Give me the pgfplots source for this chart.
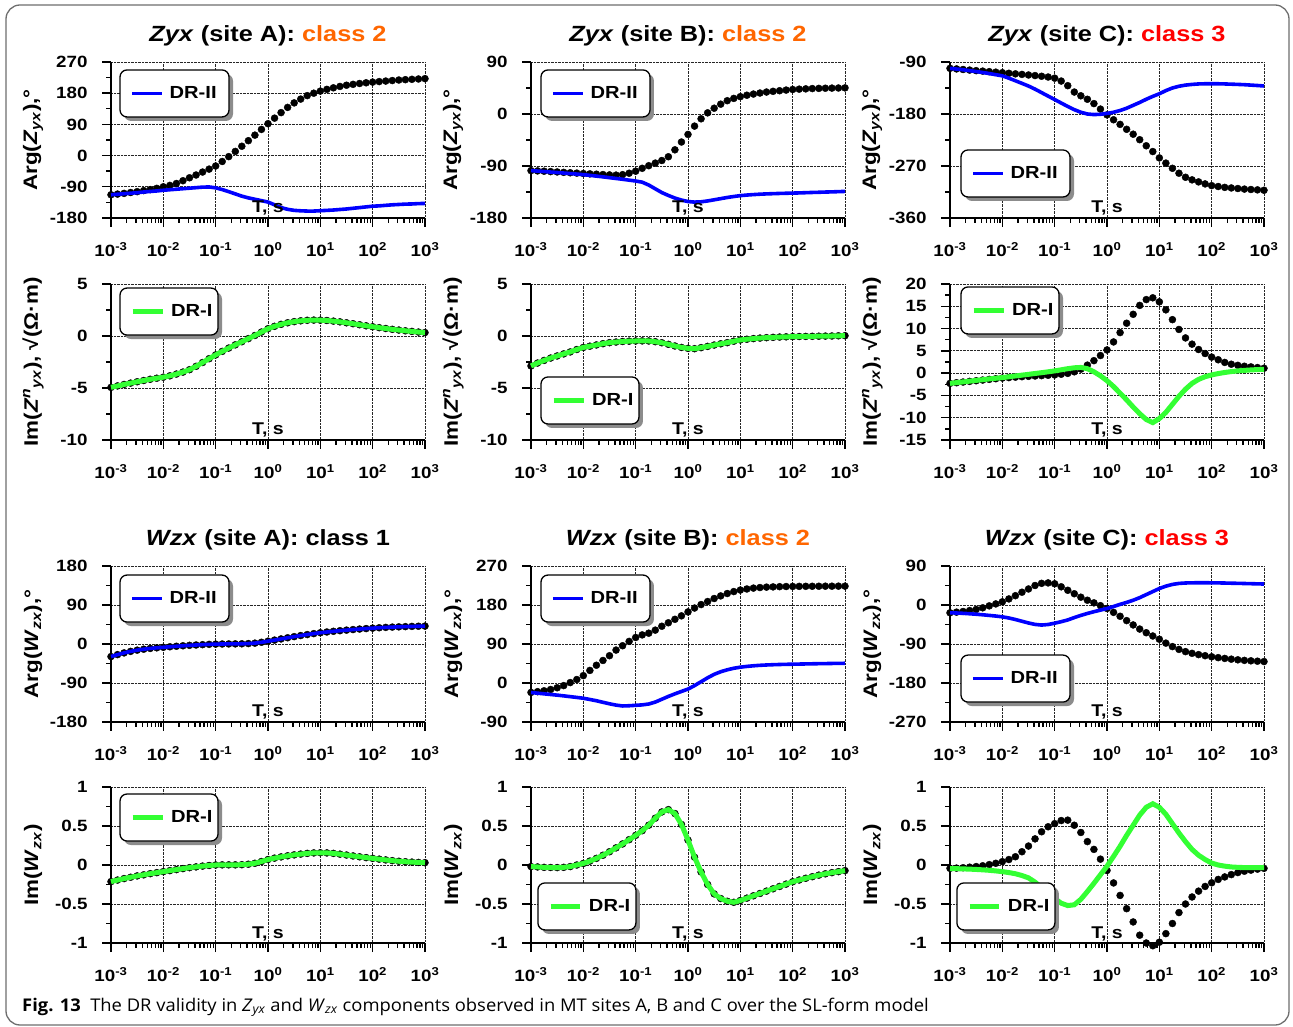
\documentclass[border=0pt]{standalone}
\usepackage{fontspec}
\setmainfont{Liberation Sans}[FakeStretch=1.15]
\newfontfamily\capfont{Open Sans}
\usepackage{graphicx}
\usepackage{xcolor}
\usepackage{pgfplots}
\usepackage{pgfplotstable}
\pgfplotsset{compat=1.18}
\definecolor{clstwo}{RGB}{255,102,0}
\definecolor{clsthree}{RGB}{255,0,0}
\definecolor{drblue}{RGB}{0,0,255}
\definecolor{drgreen}{RGB}{51,255,51}
\definecolor{framegray}{RGB}{110,110,110}

\pgfplotstableread{
x ad al bd bl cd cl
1e-3 -113 -113 -98 -98 -101 -101
1.3335e-3 -111 -111.5 -98.5 -98.8 -102 -102.2
1.7783e-3 -109 -110 -99 -99.6 -103 -103.5
2.3714e-3 -106.5 -108.5 -99.7 -100.5 -104 -105
3.1623e-3 -104 -107 -100.3 -101.3 -105 -106.5
4.2170e-3 -101 -105 -101 -102.2 -105.8 -108.2
5.6234e-3 -98 -103.5 -101.7 -103.1 -106.7 -110
7.4989e-3 -94.5 -102 -102.3 -104 -107.6 -112
1e-2 -90 -100 -103 -105 -108.5 -114
1.3335e-2 -86 -98.5 -103.6 -106.2 -109.5 -118
1.7783e-2 -80.5 -97 -104.2 -107.5 -110.5 -122.5
2.3714e-2 -72.5 -95.5 -104.8 -108.8 -111.5 -127
3.1623e-2 -64 -94 -105.4 -110.2 -112.5 -131.6
4.2170e-2 -56 -92.5 -105.8 -111.6 -113.5 -137
5.6234e-2 -47.5 -91 -105 -113 -114.7 -143
7.4989e-2 -39 -90.5 -102.5 -114.5 -116 -149
1e-1 -30 -93 -99 -116 -118 -155
1.3335e-1 -17 -98 -94 -118 -123 -161
1.7783e-1 -3 -104 -89.5 -123 -131 -167
2.3714e-1 12 -110.5 -85 -129.5 -142 -172.5
3.1623e-1 27 -117 -80.5 -136 -148.5 -177
4.2170e-1 43 -122 -74 -141 -154.5 -180
5.6234e-1 59 -126 -62 -145.5 -162 -181
7.4989e-1 75.5 -130 -48.5 -149 -171.5 -180.5
1 92 -134 -35.4 -151.5 -181.5 -179
1.3335 108 -142 -21 -152.5 -190 -177
1.7783 124 -150 -8.3 -152 -198 -174
2.3714 139 -155 2 -150.5 -206.5 -170
3.1623 152 -158 10 -148.5 -215 -165
4.2170 163 -159.3 17 -146.5 -224.5 -160
5.6234 173 -160 23 -144.5 -235 -154.5
7.4989 180 -160 27 -142.8 -245 -149.5
10 186 -159 30 -141.3 -256 -145
13.335 191 -158 32.5 -140.3 -265 -139.5
17.783 195.5 -157 34.5 -139.5 -274 -135
23.714 199.5 -155.5 36.3 -138.8 -282.5 -132
31.623 203 -154 38 -138.3 -289.5 -130
42.170 205.5 -152 39.2 -137.9 -294 -128.8
56.234 208 -150 40.3 -137.5 -297.5 -128
74.989 210 -148 41.4 -137.2 -301 -127.7
100 212 -146 42.4 -136.9 -304 -127.6
133.35 213.5 -145 43 -136.6 -305.5 -127.7
177.83 215 -143.5 43.5 -136.2 -307 -128
237.14 216.5 -142 44 -135.8 -308 -128.4
316.23 218 -141 44.3 -135.5 -309 -128.8
421.70 219 -140 44.6 -135.1 -310 -129.3
562.34 220 -139.5 44.8 -134.8 -310.7 -130
749.89 221 -138.5 45 -134.4 -311.3 -130.7
1000 222 -138 45.2 -134 -312 -131.5
}\tabA

\pgfplotstableread{
x d e fd fl
1e-3 -4.94 -2.88 -2.3 -2.3
1.3335e-3 -4.8 -2.6 -2.15 -2.13
1.7783e-3 -4.66 -2.35 -2.0 -1.97
2.3714e-3 -4.53 -2.12 -1.85 -1.8
3.1623e-3 -4.4 -1.92 -1.7 -1.63
4.2170e-3 -4.28 -1.72 -1.55 -1.47
5.6234e-3 -4.16 -1.53 -1.4 -1.3
7.4989e-3 -4.06 -1.3 -1.25 -1.15
1e-2 -3.96 -1.1 -1.1 -1.0
1.3335e-2 -3.83 -0.98 -1.0 -0.82
1.7783e-2 -3.66 -0.86 -0.9 -0.63
2.3714e-2 -3.47 -0.74 -0.8 -0.45
3.1623e-2 -3.24 -0.64 -0.72 -0.27
4.2170e-2 -2.92 -0.58 -0.64 -0.08
5.6234e-2 -2.55 -0.53 -0.56 0.1
7.4989e-2 -2.18 -0.5 -0.48 0.3
1e-1 -1.82 -0.48 -0.4 0.5
1.3335e-1 -1.48 -0.47 -0.25 0.75
1.7783e-1 -1.16 -0.48 -0.05 1.0
2.3714e-1 -0.85 -0.55 0.3 1.2
3.1623e-1 -0.55 -0.65 0.9 1.28
4.2170e-1 -0.25 -0.8 1.8 1.0
5.6234e-1 0.05 -0.96 2.8 0.3
7.4989e-1 0.38 -1.1 3.95 -0.6
1 0.7 -1.19 5.2 -1.7
1.3335 0.93 -1.22 7.0 -3.0
1.7783 1.12 -1.12 9.1 -4.5
2.3714 1.27 -1.0 11.2 -6.0
3.1623 1.38 -0.87 13.2 -7.6
4.2170 1.46 -0.75 15.2 -9.1
5.6234 1.51 -0.64 16.5 -10.4
7.4989 1.53 -0.5 16.9 -11.1
10 1.52 -0.38 16.0 -10.2
13.335 1.49 -0.31 14.2 -8.8
17.783 1.43 -0.25 12.0 -7.0
23.714 1.36 -0.2 9.8 -5.2
31.623 1.27 -0.16 7.9 -3.6
42.170 1.18 -0.13 6.5 -2.3
56.234 1.08 -0.1 5.3 -1.4
74.989 0.98 -0.08 4.4 -0.8
100 0.89 -0.06 3.6 -0.4
133.35 0.8 -0.05 3.0 -0.1
177.83 0.72 -0.04 2.4 0.15
237.14 0.64 -0.03 2.0 0.35
316.23 0.57 -0.02 1.75 0.5
421.70 0.5 -0.01 1.55 0.62
562.34 0.44 0 1.4 0.72
749.89 0.38 0.02 1.25 0.8
1000 0.33 0.03 1.1 0.85
}\tabB

\pgfplotstableread{
x g hd hl id il
1e-3 -29 -21.8 -22 -18 -18
1.3335e-3 -24.5 -20 -23.5 -16.5 -18.5
1.7783e-3 -20.5 -18 -25 -15 -19.2
2.3714e-3 -17 -15 -26.5 -12.8 -20.2
3.1623e-3 -14.2 -11 -28 -10.3 -21.3
4.2170e-3 -12 -6 -29.7 -6.5 -22.6
5.6234e-3 -10.2 1 -31.5 -2 -24
7.4989e-3 -8.8 8 -33.3 2.5 -25.5
1e-2 -7.6 17 -35.2 7.3 -27.3
1.3335e-2 -6.4 29 -38 14 -30
1.7783e-2 -5.2 41 -41 21.5 -33.5
2.3714e-2 -4.1 52 -44.5 29.5 -37.5
3.1623e-2 -3.1 63 -48 37 -41.5
4.2170e-2 -2.3 76 -51 45 -44.8
5.6234e-2 -1.5 86 -53 50 -46.3
7.4989e-2 -0.8 96 -52.5 51 -45
1e-1 -0.3 105 -51.5 49 -42
1.3335e-1 0 111 -50.5 42 -38.5
1.7783e-1 0.2 115 -48.5 34 -34.5
2.3714e-1 0.3 122 -44 26 -29
3.1623e-1 0.5 131 -37.5 18 -24
4.2170e-1 1 139 -31 11 -19.5
5.6234e-1 2 147 -25 5 -15.5
7.4989e-1 4 155 -19.5 -1.5 -11.8
1 6.5 164 -14 -8 -8
1.3335 9 173 -6 -17 -3.5
1.7783 11.7 181 3 -26 1.5
2.3714 14.4 188 12 -36 6
3.1623 17 195 20 -46 11
4.2170 19.5 201 26 -55.5 17
5.6234 21.8 206.5 30.5 -64 24
7.4989 24 211 34 -71.5 31
10 26 214.5 36.5 -79 38
13.335 27.7 217 38.3 -88 43.5
17.783 29.3 219 39.7 -96 47.5
23.714 30.7 220.3 40.8 -102.5 49.8
31.623 32 221.2 41.6 -107.6 50.8
42.170 33.3 221.8 42.2 -111.5 51.2
56.234 34.5 222.3 42.7 -114.5 51.3
74.989 35.6 222.6 43.1 -117 51.3
100 36.6 222.8 43.4 -119.5 51.2
133.35 37.5 223 43.7 -121.5 51
177.83 38.3 223.1 44 -123.3 50.7
237.14 39 223.2 44.3 -125 50.3
316.23 39.6 223.3 44.6 -126.5 50
421.70 40.1 223.4 44.8 -127.8 49.6
562.34 40.6 223.4 45.1 -128.8 49.2
749.89 41 223.5 45.3 -129.7 48.8
1000 41.4 223.5 45.5 -130.5 48.4
}\tabC

\pgfplotstableread{
x j k ld ll
1e-3 -0.213 -0.02 -0.043 -0.045
1.3335e-3 -0.193 -0.025 -0.04 -0.047
1.7783e-3 -0.174 -0.03 -0.035 -0.05
2.3714e-3 -0.157 -0.032 -0.028 -0.053
3.1623e-3 -0.14 -0.033 -0.02 -0.057
4.2170e-3 -0.126 -0.03 -0.01 -0.062
5.6234e-3 -0.111 -0.02 0.005 -0.068
7.4989e-3 -0.098 0 0.022 -0.076
1e-2 -0.085 0.02 0.043 -0.085
1.3335e-2 -0.072 0.05 0.07 -0.097
1.7783e-2 -0.059 0.085 0.106 -0.112
2.3714e-2 -0.046 0.125 0.17 -0.135
3.1623e-2 -0.034 0.17 0.243 -0.165
4.2170e-2 -0.024 0.22 0.335 -0.22
5.6234e-2 -0.014 0.27 0.426 -0.29
7.4989e-2 -0.006 0.325 0.49 -0.36
1e-1 0 0.38 0.53 -0.43
1.3335e-1 0.002 0.44 0.57 -0.49
1.7783e-1 0.002 0.51 0.575 -0.52
2.3714e-1 0.002 0.6 0.51 -0.51
3.1623e-1 0.004 0.68 0.417 -0.44
4.2170e-1 0.01 0.71 0.3 -0.34
5.6234e-1 0.022 0.66 0.2 -0.235
7.4989e-1 0.045 0.52 0.075 -0.125
1 0.07 0.32 -0.07 -0.015
1.3335 0.088 0.1 -0.23 0.11
1.7783 0.104 -0.09 -0.39 0.24
2.3714 0.118 -0.25 -0.56 0.38
3.1623 0.13 -0.37 -0.73 0.51
4.2170 0.14 -0.43 -0.9 0.64
5.6234 0.149 -0.465 -1.0 0.74
7.4989 0.155 -0.478 -1.035 0.785
10 0.157 -0.455 -0.99 0.74
13.335 0.155 -0.425 -0.88 0.65
17.783 0.149 -0.395 -0.75 0.53
23.714 0.139 -0.365 -0.61 0.41
31.623 0.128 -0.335 -0.5 0.3
42.170 0.116 -0.305 -0.41 0.2
56.234 0.105 -0.275 -0.335 0.125
74.989 0.095 -0.245 -0.275 0.07
100 0.085 -0.215 -0.228 0.025
133.35 0.075 -0.192 -0.185 0
177.83 0.065 -0.17 -0.153 -0.015
237.14 0.056 -0.15 -0.123 -0.025
316.23 0.048 -0.13 -0.097 -0.03
421.70 0.042 -0.113 -0.08 -0.033
562.34 0.037 -0.098 -0.066 -0.034
749.89 0.033 -0.085 -0.053 -0.035
1000 0.03 -0.072 -0.043 -0.035
}\tabD

% legend frame with shadow: #1,#2 = top-left corner (axis description cs), #3 = width
\newcommand{\legbox}[3]{%
  \fill[black!45, rounded corners=7pt] ([xshift=4pt,yshift=-4pt]axis description cs:#1,#2) rectangle ([xshift=#3+4pt,yshift=-51pt]axis description cs:#1,#2);
  \filldraw[fill=white, draw=black, line width=1.3pt, rounded corners=7pt] (axis description cs:#1,#2) rectangle ([xshift=#3,yshift=-47pt]axis description cs:#1,#2);
}

\pgfplotsset{
  every axis/.append style={
    scale only axis, width=314pt, height=156pt,
    xmin=1e-3, xmax=1e3,
    clip=false, clip marker paths=true,
    axis lines=left, axis line style={-, line width=2.2pt},
    tick align=outside,
    major tick length=9pt, minor tick length=5pt,
    xtick={1e-3,1e-2,1e-1,1,10,100,1000},
    xticklabels={10\textsuperscript{-3},10\textsuperscript{-2},10\textsuperscript{-1},10\textsuperscript{0},10\textsuperscript{1},10\textsuperscript{2},10\textsuperscript{3}},
    minor y tick num=1,
    grid=major,
    major grid style={black!85, densely dotted, line width=0.8pt},
    tick style={black, line width=1.4pt},
    tick label style={font=\fontsize{16.3}{16.3}\selectfont\bfseries},
    yticklabel style={xshift=-11pt},
    xticklabel style={yshift=-12pt},
    title style={font=\fontsize{22}{22}\selectfont\bfseries, at={(0.5,1)}, anchor=base, yshift=14.5pt},
    xlabel={T, s},
    xlabel style={font=\fontsize{17}{17}\selectfont\bfseries, at={(axis description cs:0.5,0)}, anchor=base, yshift=5pt, inner sep=0pt},
    ylabel style={font=\fontsize{19.5}{19.5}\selectfont\bfseries, at={(axis description cs:-0.248,0.5)}, anchor=center},
    legend style={draw=none, fill=none, inner sep=0pt, anchor=west, xshift=10pt,
        font=\fontsize{17.5}{17.5}\selectfont\bfseries,
        /tikz/every odd column/.append style={column sep=4pt}},
    legend image post style={xscale=1.75},
  },
}

\begin{document}
\begin{tikzpicture}
\useasboundingbox (0pt,0pt) rectangle (1293pt,1026pt);
\fill[white] (0pt,0pt) rectangle (1293pt,1026pt);
\draw[framegray, line width=1.3pt, rounded corners=14pt] (6pt,1pt) rectangle (1289pt,1021pt);

% ---------- Row 1: Arg Zyx ----------
\begin{semilogxaxis}[at={(111pt,808pt)}, anchor=south west,
  ymin=-180, ymax=270, ytick={-180,-90,0,90,180,270}, yticklabels={-180,-90,0,90,180,270},
  title={\textit{Zyx} (site A): \textcolor{clstwo}{class 2}},
  ylabel={Arg(\textit{Z}\textsubscript{\textit{yx}}),°},
  legend style={at={(0.0287,0.798)}}]
\addplot[only marks, mark=*, mark size=3.5pt, black, forget plot] table[x=x, y=ad] {\tabA};
\addplot[drblue, line width=3.6pt, no marks] table[x=x, y=al] {\tabA};
\addlegendentry{DR-II}
\legbox{0.0287}{0.949}{109pt}
\end{semilogxaxis}

\begin{semilogxaxis}[at={(531pt,808pt)}, anchor=south west,
  ymin=-180, ymax=90, ytick={-180,-90,0,90}, yticklabels={-180,-90,0,90},
  title={\textit{Zyx} (site B): \textcolor{clstwo}{class 2}},
  ylabel={Arg(\textit{Z}\textsubscript{\textit{yx}}),°},
  legend style={at={(0.0318,0.798)}}]
\addplot[only marks, mark=*, mark size=3.5pt, black, forget plot] table[x=x, y=bd] {\tabA};
\addplot[drblue, line width=3.6pt, no marks] table[x=x, y=bl] {\tabA};
\addlegendentry{DR-II}
\legbox{0.0318}{0.949}{109pt}
\end{semilogxaxis}

\begin{semilogxaxis}[at={(950pt,808pt)}, anchor=south west,
  ymin=-360, ymax=-90, ytick={-360,-270,-180,-90}, yticklabels={-360,-270,-180,-90},
  title={\textit{Zyx} (site C): \textcolor{clsthree}{class 3}},
  ylabel={Arg(\textit{Z}\textsubscript{\textit{yx}}),°},
  legend style={at={(0.035,0.285)}}]
\addplot[only marks, mark=*, mark size=3.5pt, black, forget plot] table[x=x, y=cd] {\tabA};
\addplot[drblue, line width=3.6pt, no marks] table[x=x, y=cl] {\tabA};
\addlegendentry{DR-II}
\legbox{0.035}{0.436}{109pt}
\end{semilogxaxis}

% ---------- Row 2: Im Zyx ----------
\begin{semilogxaxis}[at={(111pt,586pt)}, anchor=south west,
  ymin=-10, ymax=5, ytick={-10,-5,0,5}, yticklabels={-10,-5,0,5},
  ylabel={Im(\textit{Z}\textsuperscript{\textit{n}}\textsubscript{\textit{yx}}), √(Ω·m)},
  legend style={at={(0.0287,0.823)}}]
\addplot[only marks, mark=*, mark size=3.5pt, black, forget plot] table[x=x, y=d] {\tabB};
\addplot[drgreen, line width=5pt, no marks] table[x=x, y=d] {\tabB};
\addlegendentry{DR-I}
\legbox{0.0287}{0.974}{98pt}
\end{semilogxaxis}

\begin{semilogxaxis}[at={(531pt,586pt)}, anchor=south west,
  ymin=-10, ymax=5, ytick={-10,-5,0,5}, yticklabels={-10,-5,0,5},
  ylabel={Im(\textit{Z}\textsuperscript{\textit{n}}\textsubscript{\textit{yx}}), √(Ω·m)},
  legend style={at={(0.0318,0.253)}}]
\addplot[only marks, mark=*, mark size=3.5pt, black, forget plot] table[x=x, y=e] {\tabB};
\addplot[drgreen, line width=5pt, no marks] table[x=x, y=e] {\tabB};
\addlegendentry{DR-I}
\legbox{0.0318}{0.404}{98pt}
\end{semilogxaxis}

\begin{semilogxaxis}[at={(950pt,586pt)}, anchor=south west,
  ymin=-15, ymax=20, ytick={-15,-10,-5,0,5,10,15,20}, yticklabels={-15,-10,-5,0,5,10,15,20},
  ylabel={Im(\textit{Z}\textsuperscript{\textit{n}}\textsubscript{\textit{yx}}), √(Ω·m)},
  legend style={at={(0.035,0.830)}}]
\addplot[only marks, mark=*, mark size=3.5pt, black, forget plot] table[x=x, y=fd] {\tabB};
\addplot[drgreen, line width=5pt, no marks] table[x=x, y=fl] {\tabB};
\addlegendentry{DR-I}
\legbox{0.035}{0.981}{98pt}
\end{semilogxaxis}

% ---------- Row 3: Arg Wzx ----------
\begin{semilogxaxis}[at={(111pt,304pt)}, anchor=south west,
  ymin=-180, ymax=180, ytick={-180,-90,0,90,180}, yticklabels={-180,-90,0,90,180},
  title={\textit{Wzx} (site A): class 1},
  ylabel={Arg(\textit{W}\textsubscript{\textit{zx}}),°},
  legend style={at={(0.0287,0.791)}}]
\addplot[only marks, mark=*, mark size=3.5pt, black, forget plot] table[x=x, y=g] {\tabC};
\addplot[drblue, line width=3.6pt, no marks] table[x=x, y=g] {\tabC};
\addlegendentry{DR-II}
\legbox{0.0287}{0.942}{109pt}
\end{semilogxaxis}

\begin{semilogxaxis}[at={(531pt,304pt)}, anchor=south west,
  ymin=-90, ymax=270, ytick={-90,0,90,180,270}, yticklabels={-90,0,90,180,270},
  title={\textit{Wzx} (site B): \textcolor{clstwo}{class 2}},
  ylabel={Arg(\textit{W}\textsubscript{\textit{zx}}),°},
  legend style={at={(0.0318,0.791)}}]
\addplot[only marks, mark=*, mark size=3.5pt, black, forget plot] table[x=x, y=hd] {\tabC};
\addplot[drblue, line width=3.6pt, no marks] table[x=x, y=hl] {\tabC};
\addlegendentry{DR-II}
\legbox{0.0318}{0.942}{109pt}
\end{semilogxaxis}

\begin{semilogxaxis}[at={(950pt,304pt)}, anchor=south west,
  ymin=-270, ymax=90, ytick={-270,-180,-90,0,90}, yticklabels={-270,-180,-90,0,90},
  title={\textit{Wzx} (site C): \textcolor{clsthree}{class 3}},
  ylabel={Arg(\textit{W}\textsubscript{\textit{zx}}),°},
  legend style={at={(0.035,0.278)}}]
\addplot[only marks, mark=*, mark size=3.5pt, black, forget plot] table[x=x, y=id] {\tabC};
\addplot[drblue, line width=3.6pt, no marks] table[x=x, y=il] {\tabC};
\addlegendentry{DR-II}
\legbox{0.035}{0.429}{109pt}
\end{semilogxaxis}

% ---------- Row 4: Im Wzx ----------
\begin{semilogxaxis}[at={(111pt,83pt)}, anchor=south west,
  ymin=-1, ymax=1, ytick={-1,-0.5,0,0.5,1}, yticklabels={-1,-0.5,0,0.5,1},
  ylabel={Im(\textit{W}\textsubscript{\textit{zx}})},
  legend style={at={(0.0287,0.804)}}]
\addplot[only marks, mark=*, mark size=3.5pt, black, forget plot] table[x=x, y=j] {\tabD};
\addplot[drgreen, line width=5pt, no marks] table[x=x, y=j] {\tabD};
\addlegendentry{DR-I}
\legbox{0.0287}{0.955}{98pt}
\end{semilogxaxis}

\begin{semilogxaxis}[at={(531pt,83pt)}, anchor=south west,
  ymin=-1, ymax=1, ytick={-1,-0.5,0,0.5,1}, yticklabels={-1,-0.5,0,0.5,1},
  ylabel={Im(\textit{W}\textsubscript{\textit{zx}})},
  legend style={at={(0.022,0.234)}}]
\addplot[only marks, mark=*, mark size=3.5pt, black, forget plot] table[x=x, y=k] {\tabD};
\addplot[drgreen, line width=5pt, no marks] table[x=x, y=k] {\tabD};
\addlegendentry{DR-I}
\legbox{0.022}{0.385}{98pt}
\end{semilogxaxis}

\begin{semilogxaxis}[at={(950pt,83pt)}, anchor=south west,
  ymin=-1, ymax=1, ytick={-1,-0.5,0,0.5,1}, yticklabels={-1,-0.5,0,0.5,1},
  ylabel={Im(\textit{W}\textsubscript{\textit{zx}})},
  legend style={at={(0.022,0.234)}}]
\addplot[only marks, mark=*, mark size=3.5pt, black, forget plot] table[x=x, y=ld] {\tabD};
\addplot[drgreen, line width=5pt, no marks] table[x=x, y=ll] {\tabD};
\addlegendentry{DR-I}
\legbox{0.022}{0.385}{98pt}
\end{semilogxaxis}

\node[anchor=base west, inner sep=0pt] at (22pt,15pt) {\scalebox{1.05}[1]{\capfont\fontsize{17.5}{17.5}\selectfont\textbf{Fig. 13}\hspace{9pt}The DR validity in \textit{Z}\textsubscript{\textit{yx}} and \textit{W}\textsubscript{\textit{zx}} components observed in MT sites A, B and C over the SL-form model}};
\end{tikzpicture}
\end{document}
